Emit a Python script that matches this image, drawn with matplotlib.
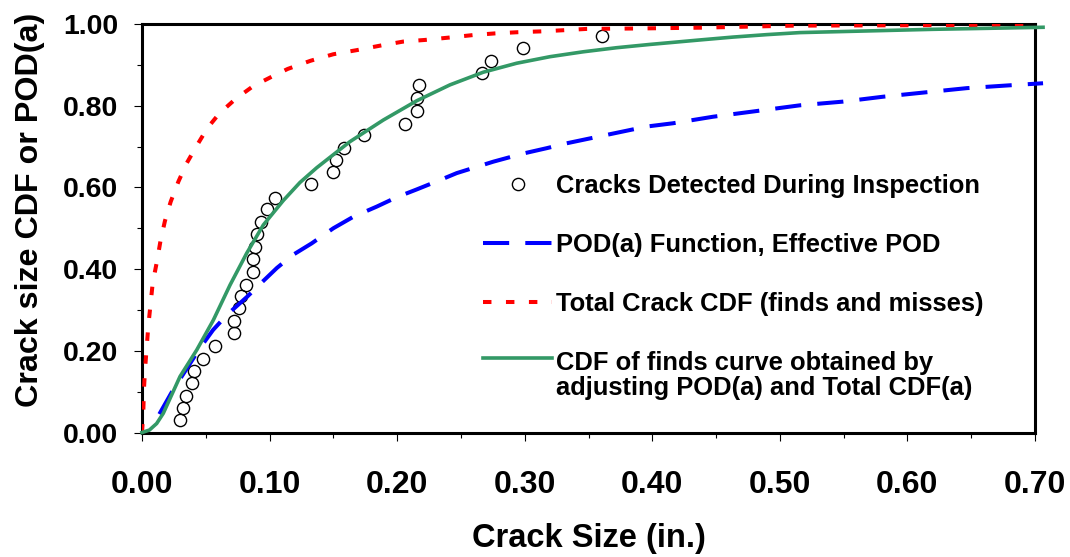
import numpy as np
import matplotlib
matplotlib.use("Agg")
import matplotlib.pyplot as plt
from matplotlib.ticker import MultipleLocator, FormatStrFormatter
from matplotlib.legend_handler import HandlerLine2D

plt.rcParams['font.family'] = ['Liberation Sans', 'DejaVu Sans']
plt.rcParams['font.weight'] = 'bold'

# cracks detected during inspection (size in., rank CDF)
found_size = [0.0298, 0.0319, 0.0343, 0.0390, 0.0410, 0.0481, 0.0575, 0.0724,
              0.0724, 0.0763, 0.0776, 0.0813, 0.0868, 0.0872, 0.0883, 0.0899,
              0.0935, 0.0980, 0.1045, 0.1325, 0.1500, 0.1518, 0.1581, 0.1740,
              0.2062, 0.2153, 0.2153, 0.2174, 0.2668, 0.2738, 0.2989, 0.3606]
found_cdf = [0.031, 0.060, 0.090, 0.122, 0.151, 0.181, 0.212, 0.244,
             0.273, 0.304, 0.335, 0.361, 0.394, 0.425, 0.453, 0.485,
             0.515, 0.546, 0.575, 0.608, 0.637, 0.666, 0.697, 0.728,
             0.756, 0.788, 0.819, 0.850, 0.879, 0.909, 0.941, 0.971]

# POD(a) function
pod_a = [0.0136, 0.0243, 0.0455, 0.0557, 0.0666, 0.0823, 0.0941, 0.1058,
         0.1184, 0.1330, 0.1500, 0.1656, 0.1840, 0.1997, 0.2153, 0.2336,
         0.2467, 0.2754, 0.2989, 0.3172, 0.3329, 0.3512, 0.3695, 0.3956,
         0.4162, 0.4476, 0.4819, 0.5158, 0.5495, 0.5809, 0.6151, 0.6465,
         0.6804, 0.7063]
pod_v = [0.045, 0.104, 0.207, 0.251, 0.288, 0.332, 0.368, 0.403,
         0.435, 0.463, 0.500, 0.528, 0.553, 0.576, 0.595, 0.618,
         0.635, 0.663, 0.683, 0.696, 0.708, 0.720, 0.732, 0.749,
         0.757, 0.773, 0.787, 0.801, 0.810, 0.822, 0.833, 0.843,
         0.850, 0.855]

# total crack CDF (finds and misses)
tot_a = [0.0, 0.0010, 0.0015, 0.0024, 0.0037, 0.0049, 0.0068, 0.0084, 0.0118,
         0.0145, 0.0180, 0.0225, 0.0285, 0.0350, 0.0429, 0.0512, 0.0606,
         0.0735, 0.0872, 0.1017, 0.1142, 0.1321, 0.1500, 0.1683, 0.1866,
         0.2048, 0.2218, 0.2414, 0.2597, 0.2767, 0.2950, 0.3133, 0.3316,
         0.3486, 0.3864, 0.4374, 0.5103, 0.7000]
tot_v = [0.0, 0.048, 0.104, 0.155, 0.208, 0.259, 0.317, 0.366, 0.420,
         0.469, 0.518, 0.565, 0.614, 0.659, 0.702, 0.745, 0.781,
         0.817, 0.848, 0.871, 0.890, 0.910, 0.926, 0.936, 0.947,
         0.957, 0.961, 0.967, 0.973, 0.977, 0.980, 0.982, 0.985,
         0.988, 0.989, 0.991, 0.996, 0.998]

# CDF of finds (adjusted)
fit_a = [0.0, 0.0058, 0.0115, 0.0167, 0.0298, 0.0429, 0.0559, 0.0690, 0.0821,
         0.0951, 0.1108, 0.1238, 0.1369, 0.1630, 0.1892, 0.2153, 0.2414, 0.2675,
         0.2937, 0.3198, 0.3459, 0.3721, 0.3982, 0.4374, 0.4633, 0.4897,
         0.5158, 0.5681, 0.6200, 0.6726, 0.7063]
fit_v = [0.0, 0.006, 0.022, 0.047, 0.137, 0.202, 0.275, 0.361, 0.439,
         0.508, 0.568, 0.612, 0.648, 0.712, 0.765, 0.812, 0.851, 0.882,
         0.904, 0.920, 0.932, 0.942, 0.950, 0.961, 0.968, 0.974,
         0.979, 0.983, 0.987, 0.990, 0.992]

fig = plt.figure(figsize=(10.7, 5.57), dpi=100)
ax = fig.add_axes([0.1327, 0.2235, 0.8346, 0.7334])

ax.plot(found_size, found_cdf, 'o', ms=8.8, mfc='none', mec='black', mew=1.0,
        label='Cracks Detected During Inspection', zorder=2)
ax.plot(pod_a, pod_v, color='#0000FF', lw=2.9, dashes=(6.5, 4),
        label='POD(a) Function, Effective POD', clip_on=False, zorder=3)
ax.plot(tot_a, tot_v, color='#FF0000', lw=2.9, dashes=(2.1, 3.6),
        label='Total Crack CDF (finds and misses)', zorder=3)
fit_line, = ax.plot(fit_a, fit_v, color='#339966', lw=2.6,
                    label='CDF of finds curve obtained by\nadjusting POD(a) and Total CDF(a)',
                    clip_on=False, zorder=4)

ax.set_xlim(0, 0.70)
ax.set_ylim(0, 1.0)
ax.xaxis.set_major_locator(MultipleLocator(0.1))
ax.xaxis.set_minor_locator(MultipleLocator(0.05))
ax.yaxis.set_major_locator(MultipleLocator(0.2))
ax.yaxis.set_minor_locator(MultipleLocator(0.1))
ax.xaxis.set_major_formatter(FormatStrFormatter('%.2f'))
ax.yaxis.set_major_formatter(FormatStrFormatter('%.2f'))

ax.tick_params(axis='both', which='major', direction='out', length=5.8, width=0.8)
ax.tick_params(axis='both', which='minor', direction='out', length=3.6, width=0.8)
ax.tick_params(axis='y', which='major', labelsize=20.5, pad=11.5)
ax.tick_params(axis='x', which='major', labelsize=23, pad=21)
for lab in ax.get_xticklabels() + ax.get_yticklabels():
    lab.set_fontweight('bold')

for sp in ax.spines.values():
    sp.set_linewidth(2.2)
    sp.set_color('black')

ax.set_xlabel('Crack Size (in.)', fontsize=23.5, fontweight='bold', labelpad=17)
ax.set_ylabel('Crack size CDF or POD(a)', fontsize=23.2, fontweight='bold')
ax.yaxis.set_label_coords(-0.1086, 0.545)


# line up the green handle with the first line of its two-line label
def raise_handle(handle, orig):
    handle.update_from(orig)
    handle.set_ydata(np.asarray(handle.get_ydata()) + 12.5)


leg = ax.legend(loc='upper left', bbox_to_anchor=(0.37, 0.659), frameon=False,
                fontsize=18.4, handlelength=2.73, handletextpad=0.16,
                labelspacing=1.37, numpoints=1, borderaxespad=0,
                handler_map={fit_line: HandlerLine2D(update_func=raise_handle)})
leg.get_texts()[3].set_linespacing(1.05)

fig.savefig('out.png', dpi=100)
